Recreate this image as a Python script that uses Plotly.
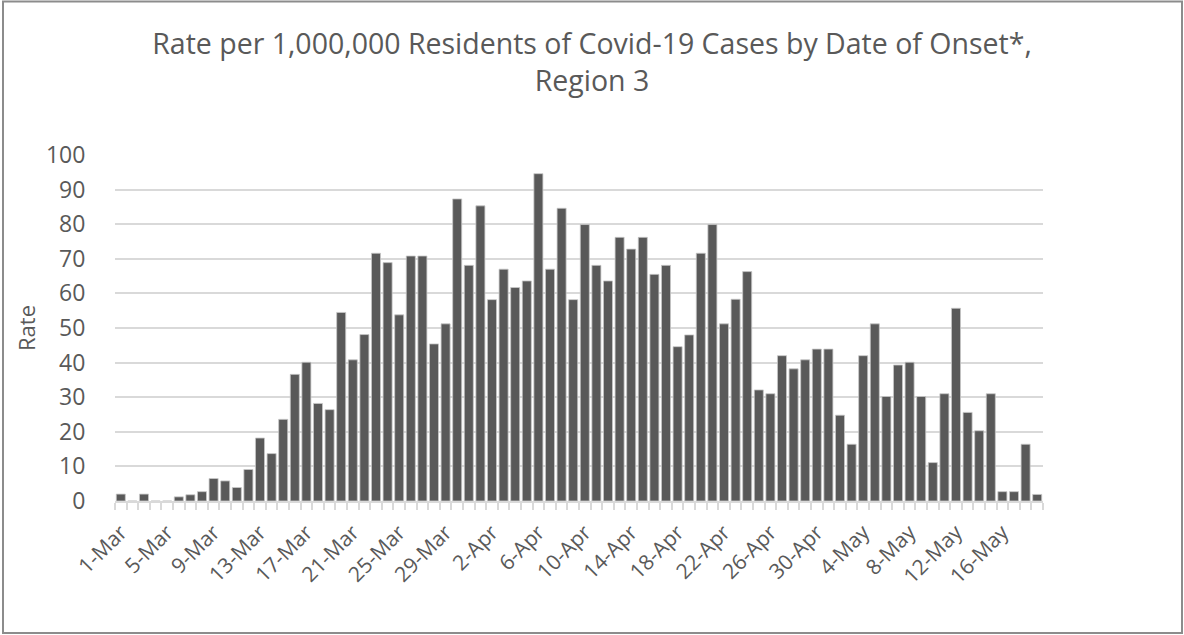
import plotly.graph_objects as go
import pandas as pd

start_date = "2020-03-01"
rates = [2, 0, 2, 0, 0, 1.2, 1.8, 2.7, 6.5, 5.8,
         3.9, 9.1, 18.2, 13.7, 23.6, 36.6, 40.1, 28.2, 26.4, 54.5,
         40.8, 48.1, 71.6, 68.9, 53.8, 70.8, 70.8, 45.4, 51.2, 87.3,
         68.1, 85.3, 58.2, 67.0, 61.7, 63.6, 94.6, 67.0, 84.6, 58.2,
         79.9, 68.1, 63.6, 76.2, 72.8, 76.2, 65.5, 68.1, 44.6, 48.0,
         71.6, 79.9, 51.2, 58.3, 66.3, 32.1, 31.0, 42.0, 38.2, 40.8,
         43.9, 43.9, 24.8, 16.4, 42.0, 51.2, 30.2, 39.3, 40.1, 30.2,
         11.1, 31.0, 55.7, 25.6, 20.3, 31.0, 2.7, 2.7, 16.4, 1.9]
dates = pd.date_range(start_date, periods=len(rates), freq="D")
y_ticks = list(range(0, 101, 10))

title_text = "Rate per 1,000,000 Residents of Covid-19 Cases by Date of Onset*,<br>Region 3"

W, H = 1184, 635
ML, MR, MT, MB = 115, 141, 155, 134
FONT = "Open Sans"
TXT = "#595959"

fig = go.Figure(go.Bar(
    x=dates, y=rates,
    marker=dict(color="#595959", line=dict(color="#c8c8c8", width=0.8)),
))

half_day = pd.Timedelta(hours=12)
fig.update_xaxes(
    type="date",
    range=[dates[0] - half_day, dates[-1] + half_day],
    tick0=dates[0], dtick=4 * 86400000,
    tickformat="%-d-%b", tickangle=-45,
    ticks="", showgrid=False, ticklabelstandoff=9,
    showline=True, linecolor="#d9d9d9", linewidth=1.5,
    tickfont=dict(family=FONT, size=21, color=TXT),
    minor=dict(ticks="outside", tick0=dates[0] - half_day, dtick=86400000,
               ticklen=7, tickcolor="#d9d9d9", tickwidth=1.5, showgrid=False),
)
fig.update_yaxes(
    range=[0, 100], tickvals=y_ticks,
    showgrid=True, gridcolor="#d9d9d9", gridwidth=1.5,
    zeroline=False, showline=False,
    ticks="outside", ticklen=24, tickcolor="rgba(0,0,0,0)",
    tickfont=dict(family=FONT, size=23, color=TXT),
    title=dict(text="Rate", font=dict(family=FONT, size=22, color=TXT), standoff=4),
)

pw, ph = W - ML - MR, H - MT - MB
def px_x(p):
    return (p - ML) / pw
def px_y(p):
    return (H - MB - p) / ph

fig.add_shape(type="rect", xref="paper", yref="paper",
              x0=px_x(3), x1=px_x(1182), y0=px_y(633), y1=px_y(1.5),
              line=dict(color="#8c8c8c", width=2), fillcolor="rgba(0,0,0,0)", layer="below")

fig.update_layout(
    width=W, height=H,
    margin=dict(l=ML, r=MR, t=MT, b=MB),
    paper_bgcolor="white", plot_bgcolor="white",
    bargap=0.22, showlegend=False,
    title=dict(text=title_text, x=0.5, xanchor="center", y=1 - 54 / H, yanchor="top",
               font=dict(family=FONT, size=28.5, color=TXT)),
)

fig.write_html("out.html", config={"displayModeBar": False},
               post_script="document.body.style.margin='0';")
